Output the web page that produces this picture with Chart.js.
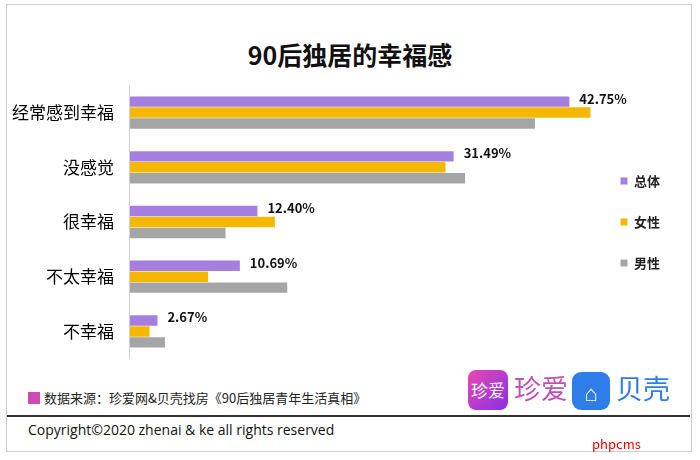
<!DOCTYPE html>
<html lang="zh">
<head>
<meta charset="UTF-8">
<script src="https://cdn.jsdelivr.net/npm/chart.js"></script>
<style>
  body { margin:0; width:700px; height:460px; background:#fff; font-family:"Noto Sans CJK SC", sans-serif; position:relative; overflow:hidden; }
  .frame { position:absolute; left:6px; top:4px; width:684px; height:446px; border:1px solid #ccc; }
  h1 { position:absolute; top:36px; left:0; width:700px; text-align:center; margin:0; font-size:25px; font-weight:bold; color:#111; }
  #wrap { position:absolute; left:0; top:67px; width:700px; height:310px; }
  .src { position:absolute; left:28px; top:388px; font-size:13px; color:#222; }
  .src i { display:inline-block; width:12px; height:12px; background:#d04ab1; margin-right:4px; vertical-align:-1px; }
  .line { position:absolute; left:7px; top:415px; width:683px; height:2px; background:#333; }
  .copy { position:absolute; left:28px; top:420px; font-size:14px; color:#111; font-family:"Open Sans",sans-serif; }
  .logo1 { position:absolute; left:468px; top:370px; width:40px; height:40px; border-radius:8px; background:linear-gradient(135deg,#e84ab0,#8a2ee6); color:#fff; font-size:17px; line-height:40px; text-align:center; }
  .t1 { position:absolute; left:514px; top:368px; font-size:27px; color:#c050b8; }
  .logo2 { position:absolute; left:572px; top:372px; width:38px; height:38px; border-radius:9px; background:#2f7de8; color:#fff; font-size:22px; line-height:38px; text-align:center; }
  .t2 { position:absolute; left:616px; top:368px; font-size:27px; color:#2f7de8; }
  .wm { position:absolute; left:592px; top:434px; font-size:13px; color:#e00; }
</style>
</head>
<body>
<div class="frame"></div>
<h1>90后独居的幸福感</h1>
<div id="wrap"><canvas id="c"></canvas></div>
<div class="src"><i></i>数据来源：珍爱网&amp;贝壳找房《90后独居青年生活真相》</div>
<div class="logo1">珍爱</div><div class="t1">珍爱</div>
<div class="logo2">⌂</div><div class="t2">贝壳</div>
<div class="line"></div>
<div class="copy">Copyright©2020 zhenai &amp; ke all rights reserved</div>
<div class="wm">phpcms</div>
<script>
const categories = ['经常感到幸福', '没感觉', '很幸福', '不太幸福', '不幸福'];
const totalValues = [42.75, 31.49, 12.40, 10.69, 2.67];
const femaleValues = [44.8, 30.7, 14.1, 7.6, 1.9];
const maleValues = [39.4, 32.6, 9.3, 15.3, 3.4];

const labelPlugin = {
  id: 'totalLabels',
  afterDatasetsDraw(chart) {
    const ctx = chart.ctx;
    const meta = chart.getDatasetMeta(0);
    ctx.save();
    ctx.font = 'bold 13px "Noto Sans CJK SC"';
    ctx.fillStyle = '#111';
    ctx.textBaseline = 'middle';
    meta.data.forEach((bar, i) => {
      ctx.fillText(totalValues[i].toFixed(2) + '%', bar.x + 10, bar.y - 3);
    });
    ctx.restore();
  }
};

new Chart(document.getElementById('c'), {
  type: 'bar',
  data: {
    labels: categories,
    datasets: [
      { label: '总体', data: totalValues, backgroundColor: '#a47fe0' },
      { label: '女性', data: femaleValues, backgroundColor: '#f5b800' },
      { label: '男性', data: maleValues, backgroundColor: '#a5a5a5' }
    ]
  },
  options: {
    indexAxis: 'y',
    responsive: true,
    maintainAspectRatio: false,
    animation: false,
    layout: { padding: { left: 4, right: 30, top: 0, bottom: 0 } },
    datasets: { bar: { categoryPercentage: 0.6, barPercentage: 0.95 } },
    scales: {
      x: { display: false, min: 0, max: 45 },
      y: {
        grid: { display: false },
        border: { color: '#d0d0d0' },
        ticks: { color: '#000', font: { size: 17, family: '"Noto Sans CJK SC"' }, padding: 8 }
      }
    },
    plugins: {
      legend: {
        position: 'right',
        labels: { boxWidth: 7, boxHeight: 7, padding: 28, color: '#222', font: { size: 13, weight: 'bold', family: '"Noto Sans CJK SC"' } }
      },
      tooltip: { enabled: false }
    }
  },
  plugins: [labelPlugin]
});
</script>
</body>
</html>
